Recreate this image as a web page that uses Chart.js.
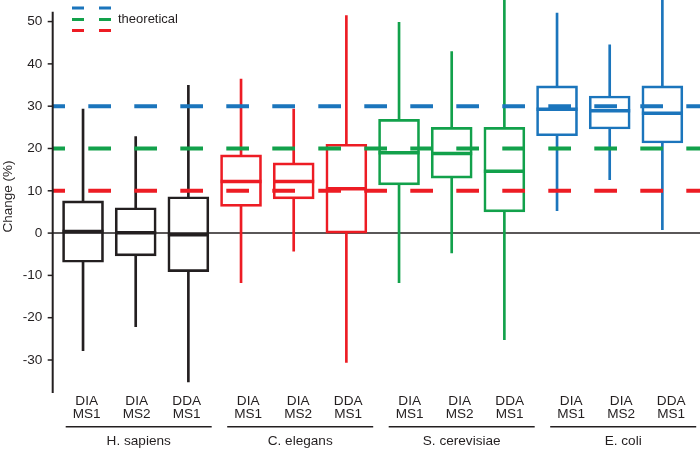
<!DOCTYPE html>
<html><head><meta charset="utf-8">
<script src="https://cdn.jsdelivr.net/npm/chart.js@4"></script>
<style>html,body{margin:0;padding:0;background:#fff}canvas{display:block}</style>
</head><body>
<canvas id="c" width="700" height="449"></canvas>
<script>
// ---------- data ----------
const species = ['H. sapiens', 'C. elegans', 'S. cerevisiae', 'E. coli'];
const methods = [['DIA', 'MS1'], ['DIA', 'MS2'], ['DDA', 'MS1']];
const categories = species.flatMap(s => methods.map(m => s + ' ' + m.join(' ')));
const whiskerLow  = [-27.8, -22.1, -35.2, -11.7, -4.3, -30.6, -11.7, -4.7, -25.2,  5.3, 12.6,  0.8];
const q1          = [ -6.9,  -5.4,  -9.1,   6.3,  8.1,   0.0,  11.4, 13.0,   5.0, 23.0, 24.6, 21.3];
const median      = [  0.4,   0.1,  -0.4,  12.2, 12.2,  10.5,  19.0, 18.8,  14.6, 29.3, 28.9, 28.3];
const q3          = [  7.6,   6.0,   8.6,  18.5, 16.6,  21.0,  26.9, 25.0,  25.0, 34.8, 32.4, 34.8];
const whiskerHigh = [ 29.3,  22.8,  34.9,  36.4, 29.3,  51.4,  49.8, 42.9,  58.0, 52.0, 44.5, 58.0];
const theoretical = [30, 20, 10];
const yTicks = [-30, -20, -10, 0, 10, 20, 30, 40, 50];
const legendText = 'theoretical';
const yTitle = 'Change (%)';

// ---------- styles ----------
const INK = '#231f20';
const FONT = '"Liberation Sans", Arial, Helvetica, sans-serif';
const speciesColors = [INK, '#ed1c24', '#12a14b', '#1b75bc'];
const theoreticalColors = ['#1b75bc', '#12a14b', '#ed1c24'];
const boxColors = categories.map((_, i) => speciesColors[Math.floor(i / methods.length)]);

// label layout along secondary axis (pixels-like units)
const GROUP_STEP = 161.5, LABEL_STEP = 50, GROUP_CENTER = 52, GROUP_HALF = 73;
const labelPositions = categories.map((_, i) => Math.floor(i / 3) * GROUP_STEP + (i % 3) * LABEL_STEP);

const extras = {
  id: 'extras',
  beforeDatasetsDraw(chart) {
    const {ctx, chartArea, scales: {y}} = chart;
    const ax = chartArea.left - 4;
    ctx.save();
    ctx.strokeStyle = INK; ctx.lineWidth = 1.5;
    const y0 = y.getPixelForValue(0);
    ctx.beginPath(); ctx.moveTo(ax, y0); ctx.lineTo(chart.width, y0); ctx.stroke();
    ctx.restore();
  },
  afterDatasetsDraw(chart) {
    const {ctx, chartArea, scales: {y, x2}} = chart;
    const ax = chartArea.left - 4;
    ctx.save();
    // theoretical dashed lines
    ctx.lineWidth = 4; ctx.lineCap = 'butt';
    ctx.setLineDash([22.7, 23.3]); ctx.lineDashOffset = 10.4;
    theoretical.forEach((v, k) => {
      const py = y.getPixelForValue(v);
      ctx.strokeStyle = theoreticalColors[k];
      ctx.beginPath(); ctx.moveTo(ax, py); ctx.lineTo(chart.width, py); ctx.stroke();
    });
    ctx.setLineDash([]);
    // medians
    const meta = chart.getDatasetMeta(0);
    meta.data.forEach((bar, i) => {
      const w = bar.width, py = y.getPixelForValue(median[i]);
      ctx.strokeStyle = boxColors[i]; ctx.lineWidth = 3.5;
      ctx.beginPath(); ctx.moveTo(bar.x - w / 2, py); ctx.lineTo(bar.x + w / 2, py); ctx.stroke();
    });
    // y axis line + ticks
    ctx.strokeStyle = INK; ctx.lineWidth = 2;
    ctx.beginPath(); ctx.moveTo(ax, y.getPixelForValue(52.3)); ctx.lineTo(ax, chartArea.bottom); ctx.stroke();
    ctx.lineWidth = 1.5;
    yTicks.forEach(v => {
      const py = y.getPixelForValue(v);
      ctx.beginPath(); ctx.moveTo(ax - 5, py); ctx.lineTo(ax, py); ctx.stroke();
    });
    // group lines and labels
    ctx.fillStyle = INK; ctx.font = '13.6px ' + FONT;
    ctx.textAlign = 'center'; ctx.textBaseline = 'middle';
    species.forEach((s, g) => {
      const c = g * GROUP_STEP + GROUP_CENTER;
      const xl = x2.getPixelForValue(c - GROUP_HALF), xr = x2.getPixelForValue(c + GROUP_HALF);
      ctx.lineWidth = 1.5;
      ctx.beginPath(); ctx.moveTo(xl, x2.top + 33.7); ctx.lineTo(xr, x2.top + 33.7); ctx.stroke();
      ctx.fillText(s, x2.getPixelForValue(c), x2.top + 48.7);
    });
    // legend
    const rows = [8, 19.4, 30.6];
    ctx.lineWidth = 3;
    theoreticalColors.forEach((col, k) => {
      ctx.strokeStyle = col;
      ctx.beginPath();
      ctx.moveTo(72, rows[k]); ctx.lineTo(84, rows[k]);
      ctx.moveTo(99, rows[k]); ctx.lineTo(111, rows[k]);
      ctx.stroke();
    });
    ctx.textAlign = 'left';
    ctx.font = '13px ' + FONT;
    ctx.fillText(legendText, 118, 19.6);
    ctx.restore();
  }
};

const barCommon = {grouped: false, borderSkipped: false};
new Chart(document.getElementById('c'), {
  type: 'bar',
  data: {
    labels: categories,
    datasets: [
      Object.assign({
        label: 'box',
        data: categories.map((_, i) => [q1[i], q3[i]]),
        backgroundColor: 'rgba(255,255,255,0)',
        borderColor: boxColors, borderWidth: 2, barThickness: 41
      }, barCommon),
      Object.assign({
        label: 'lower whisker',
        data: categories.map((_, i) => [whiskerLow[i], q1[i]]),
        backgroundColor: boxColors, borderWidth: 0, barThickness: 2
      }, barCommon),
      Object.assign({
        label: 'upper whisker',
        data: categories.map((_, i) => [q3[i], whiskerHigh[i]]),
        backgroundColor: boxColors, borderWidth: 0, barThickness: 2
      }, barCommon)
    ]
  },
  options: {
    responsive: false,
    animation: false,
    layout: {padding: {left: 0, right: 11.3, top: 0, bottom: 0}},
    plugins: {legend: {display: false}, tooltip: {enabled: false}},
    scales: {
      x: {type: 'category', display: false, offset: true},
      x2: {
        type: 'linear', position: 'bottom', min: -30, max: 602, offset: false,
        grid: {display: false, drawTicks: false, offset: false}, border: {display: false},
        afterBuildTicks: s => { s.ticks = labelPositions.map(v => ({value: v})); },
        afterFit: s => { s.height = 56; s.paddingLeft = 0; s.paddingRight = 0; },
        ticks: {
          autoSkip: false, maxRotation: 0, minRotation: 0, padding: 1,
          color: INK, font: {family: FONT, size: 13.6, lineHeight: 1.0},
          callback: (v, i) => methods[i % methods.length]
        }
      },
      y: {
        position: 'left', min: -37.8, max: 55.1,
        grid: {display: false, drawTicks: false}, border: {display: false},
        afterBuildTicks: s => { s.ticks = yTicks.map(v => ({value: v})); },
        afterFit: s => { s.width = 56.7; s.paddingTop = 0; s.paddingBottom = 0; },
        ticks: {padding: 14.4, color: INK, font: {family: FONT, size: 13.6}},
        title: {display: true, text: yTitle, color: INK, padding: {top: 0, bottom: 0},
                font: {family: FONT, size: 13.5}}
      }
    }
  },
  plugins: [extras]
});
</script>
</body></html>
